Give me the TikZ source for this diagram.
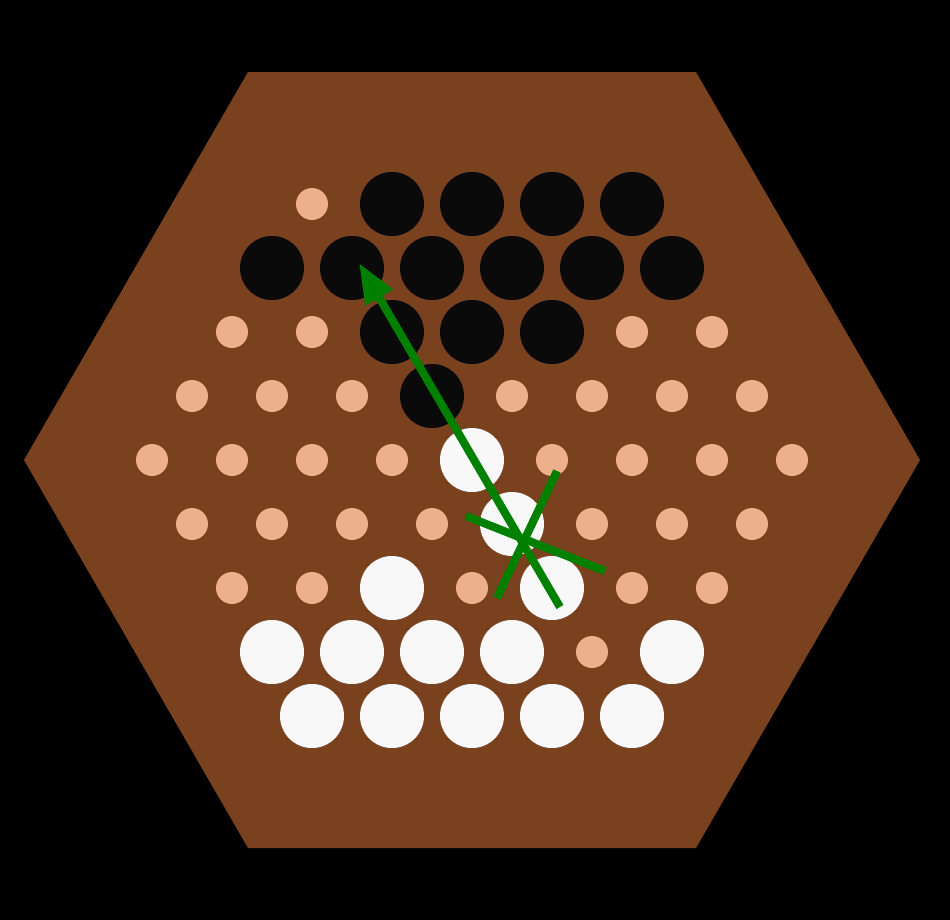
\documentclass[tikz,border=0pt]{standalone}
\usepackage{tikz}
\usetikzlibrary{arrows.meta}
\definecolor{boardbrown}{RGB}{122,65,30}
\definecolor{holepeach}{RGB}{238,176,140}
\definecolor{ballblack}{RGB}{10,10,10}
\definecolor{ballwhite}{RGB}{248,248,248}
\definecolor{movegreen}{RGB}{0,128,0}
\tikzset{
  board/.style   ={fill=boardbrown},
  hole/.style    ={fill=holepeach},
  blackball/.style={fill=ballblack},
  whiteball/.style={fill=ballwhite},
  movearr/.style ={-{Triangle[length=11.4pt,width=8.5pt]}, line width=2.3pt, movegreen},
  xmark/.style   ={line width=2.3pt, movegreen},
}

\begin{document}
\begin{tikzpicture}[x=0.01cm, y=-0.01cm]
  \fill[black] (0,0) rectangle (950,920);
  \useasboundingbox (0,0) rectangle (950,920);

  % board
  \fill[board] (248,72) -- (696,72) -- (920,460) -- (696,848) -- (248,848) -- (24,460) -- cycle;

  % empty holes
  \foreach \r in {0,...,8} {
    \pgfmathtruncatemacro{\n}{9-abs(\r-4)}
    \pgfmathtruncatemacro{\nn}{\n-1}
    \foreach \c in {0,...,\nn}
      \fill[hole] ({472-40*\nn+80*\c},{204+64*\r}) circle (16);
  }

  % black marbles
  \foreach \x/\y in {392/204,472/204,552/204,632/204,
                     272/268,352/268,432/268,512/268,592/268,672/268,
                     392/332,472/332,552/332,432/396}
    \fill[blackball] (\x,\y) circle (32);

  % white marbles
  \foreach \x/\y in {472/460,512/524,392/588,552/588,
                     272/652,352/652,432/652,512/652,672/652,
                     312/716,392/716,472/716,552/716,632/716}
    \fill[whiteball] (\x,\y) circle (32);

  % move and cross
  \coordinate (from) at (560,607);
  \coordinate (to) at (359,263);
  \coordinate (xa) at (557,471);
  \coordinate (xb) at (497,598);
  \coordinate (xc) at (466,516);
  \coordinate (xd) at (605,571);
  \draw[movearr] (from) -- (to);
  \draw[xmark] (xa) -- (xb);
  \draw[xmark] (xc) -- (xd);
\end{tikzpicture}
\end{document}
